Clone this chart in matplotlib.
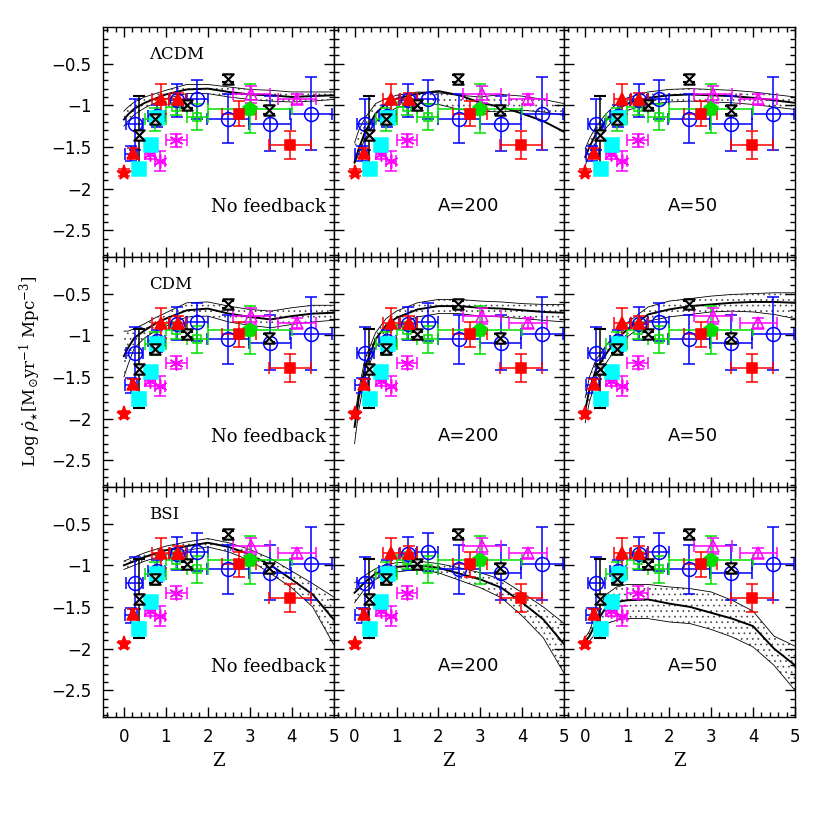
import numpy as np
import matplotlib
matplotlib.use('Agg')
import matplotlib.pyplot as plt
import matplotlib.ticker as ticker
from matplotlib.path import Path

plt.rcParams['mathtext.fontset'] = 'dejavuserif'
plt.rcParams['hatch.linewidth'] = 0.5

row_names = ['ΛCDM', 'CDM', 'BSI']
col_names = ['No feedback', 'A=200', 'A=50']

# observational points: y for the LCDM row, then y for the CDM/BSI rows
red_star_z = [0.0]
red_star_y = [[-1.81], [-1.95]]
red_star_yerr = [0.04]

red_tri_z = [0.22, 0.88, 1.29]
red_tri_y = [[-1.57, -0.92, -0.93], [-1.58, -0.85, -0.85]]
red_tri_xerr = [0.0, 0.2, 0.2]
red_tri_yerr = [0.06, 0.18, 0.08]

red_sq_z = [2.75, 3.97]
red_sq_y = [[-1.1, -1.48], [-0.99, -1.39]]
red_sq_xerr = [0.4, 0.5]
red_sq_yerr = [0.15, 0.17]

cyan_z = [0.37, 0.64, 0.8]
cyan_y = [[-1.76, -1.48, -1.15], [-1.76, -1.44, -1.1]]

black_z = [0.35, 0.75, 1.5, 2.47, 3.47]
black_y = [[-1.36, -1.16, -1.0, -0.68, -1.06], [-1.4, -1.16, -0.99, -0.63, -1.03]]
black_yerr = [0.47, 0.05, 0.03, 0.04, 0.05]

blue_z = [0.26, 0.78, 1.27, 1.75, 2.48, 3.48, 4.47]
blue_y = [[-1.23, -1.13, -0.94, -0.93, -1.16, -1.22, -1.1],
          [-1.21, -1.07, -0.86, -0.84, -1.05, -1.09, -0.98]]
blue_xerr = [0.2, 0.2, 0.2, 0.25, 0.5, 0.5, 0.5]
blue_yerr = [0.31, 0.13, 0.2, 0.23, 0.29, 0.33, 0.44]
blue_bar_z = [0.17]
blue_bar_y = [[-1.58], [-1.6]]

green_sq_z = [0.75, 1.25, 1.75]
green_sq_y = [[-1.17, -1.02, -1.14], [-1.1, -0.94, -1.05]]
green_sq_xerr = [0.25, 0.25, 0.25]
green_sq_yerr = [0.14, 0.1, 0.16]

green_pent_z = [3.0]
green_pent_y = [[-1.04], [-0.94]]
green_pent_xerr = [1.0]
green_pent_yerr = [0.29]

mag_ast_z = [0.62, 0.87, 1.25]
mag_ast_y = [[-1.58, -1.67, -1.42], [-1.55, -1.61, -1.33]]
mag_ast_xerr = [0.12, 0.12, 0.25]
mag_ast_yerr = [0.06, 0.12, 0.08]

mag_tri_z = [3.04, 4.13]
mag_tri_y = [[-0.87, -0.92], [-0.77, -0.85]]
mag_tri_xerr = [0.45, 0.45]
mag_tri_yerr = [0.1, 0.06]

# model curves: solid line, lower and upper edge of the dotted band
curve_z = [0, 0.1, 0.25, 0.5, 0.75, 1, 1.5, 2, 2.5, 3, 3.5, 4, 4.5, 5]

lcdm_nf_line = [-1.17, -1.11, -1.04, -0.97, -0.92, -0.87, -0.81, -0.8, -0.84, -0.87, -0.88, -0.9, -0.89, -0.88]
lcdm_nf_lo = [-1.25, -1.19, -1.11, -1.03, -0.97, -0.92, -0.86, -0.86, -0.9, -0.93, -0.95, -0.96, -0.95, -0.93]
lcdm_nf_hi = [-1.07, -1.02, -0.96, -0.9, -0.86, -0.82, -0.75, -0.75, -0.78, -0.81, -0.82, -0.84, -0.84, -0.84]

lcdm_200_line = [-1.68, -1.52, -1.32, -1.1, -0.98, -0.92, -0.86, -0.83, -0.88, -0.97, -1.02, -1.1, -1.19, -1.32]
lcdm_200_lo = [-1.7, -1.58, -1.4, -1.2, -1.1, -1.03, -0.97, -0.99, -1.05, -1.07, -1.08, -1.06, -1.08, -1.12]
lcdm_200_hi = [-1.45, -1.3, -1.15, -0.98, -0.92, -0.88, -0.84, -0.85, -0.88, -0.9, -0.87, -0.89, -0.93, -0.98]

lcdm_50_line = [-1.62, -1.5, -1.35, -1.18, -1.05, -0.98, -0.91, -0.88, -0.87, -0.88, -0.89, -0.91, -0.94, -0.97]
lcdm_50_lo = [-1.72, -1.6, -1.45, -1.27, -1.13, -1.06, -0.99, -0.96, -0.95, -0.96, -0.97, -0.99, -1.02, -1.05]
lcdm_50_hi = [-1.52, -1.4, -1.26, -1.1, -0.98, -0.91, -0.84, -0.81, -0.8, -0.81, -0.82, -0.84, -0.87, -0.9]

cdm_nf_line = [-1.25, -1.15, -1.03, -0.94, -0.86, -0.8, -0.7, -0.68, -0.74, -0.78, -0.81, -0.77, -0.74, -0.73]
cdm_nf_lo = [-1.5, -1.35, -1.15, -1.03, -0.95, -0.89, -0.78, -0.77, -0.84, -0.88, -0.91, -0.87, -0.84, -0.82]
cdm_nf_hi = [-0.95, -0.95, -0.92, -0.86, -0.79, -0.73, -0.61, -0.6, -0.65, -0.69, -0.71, -0.67, -0.64, -0.64]

cdm_200_line = [-2.1, -1.75, -1.38, -1.05, -0.88, -0.79, -0.69, -0.65, -0.65, -0.67, -0.68, -0.7, -0.72, -0.73]
cdm_200_lo = [-2.3, -1.9, -1.5, -1.15, -0.97, -0.88, -0.78, -0.74, -0.74, -0.77, -0.78, -0.8, -0.82, -0.84]
cdm_200_hi = [-2.0, -1.65, -1.28, -0.97, -0.8, -0.71, -0.61, -0.57, -0.57, -0.59, -0.6, -0.62, -0.63, -0.63]

cdm_50_line = [-1.9, -1.65, -1.42, -1.22, -1.05, -0.93, -0.75, -0.69, -0.65, -0.63, -0.61, -0.6, -0.6, -0.61]
cdm_50_lo = [-2.05, -1.8, -1.55, -1.33, -1.15, -1.02, -0.83, -0.78, -0.75, -0.72, -0.71, -0.72, -0.75, -0.8]
cdm_50_hi = [-1.75, -1.5, -1.3, -1.12, -0.97, -0.85, -0.66, -0.59, -0.56, -0.53, -0.51, -0.5, -0.49, -0.49]

bsi_nf_line = [-1.0, -0.98, -0.95, -0.9, -0.86, -0.82, -0.77, -0.73, -0.78, -0.87, -1.0, -1.17, -1.35, -1.65]
bsi_nf_lo = [-1.05, -1.03, -1.0, -0.95, -0.91, -0.87, -0.82, -0.78, -0.84, -0.94, -1.1, -1.27, -1.5, -1.95]
bsi_nf_hi = [-0.95, -0.93, -0.9, -0.85, -0.81, -0.77, -0.72, -0.68, -0.73, -0.81, -0.92, -1.07, -1.22, -1.38]

bsi_200_line = [-1.33, -1.28, -1.2, -1.1, -1.05, -1.02, -1.0, -1.03, -1.1, -1.17, -1.27, -1.45, -1.65, -1.95]
bsi_200_lo = [-1.45, -1.38, -1.28, -1.17, -1.11, -1.08, -1.05, -1.09, -1.18, -1.27, -1.39, -1.61, -1.87, -2.3]
bsi_200_hi = [-1.21, -1.18, -1.12, -1.04, -0.99, -0.97, -0.95, -0.98, -1.03, -1.09, -1.17, -1.33, -1.5, -1.7]

bsi_50_line = [-1.92, -1.85, -1.7, -1.5, -1.44, -1.42, -1.41, -1.46, -1.5, -1.57, -1.64, -1.73, -2.0, -2.2]
bsi_50_lo = [-1.97, -1.91, -1.82, -1.7, -1.66, -1.64, -1.64, -1.68, -1.7, -1.77, -1.86, -1.98, -2.2, -2.5]
bsi_50_hi = [-1.87, -1.79, -1.58, -1.35, -1.26, -1.23, -1.23, -1.26, -1.28, -1.32, -1.42, -1.55, -1.85, -1.97]

curves = [
    [(lcdm_nf_line, lcdm_nf_lo, lcdm_nf_hi), (lcdm_200_line, lcdm_200_lo, lcdm_200_hi), (lcdm_50_line, lcdm_50_lo, lcdm_50_hi)],
    [(cdm_nf_line, cdm_nf_lo, cdm_nf_hi), (cdm_200_line, cdm_200_lo, cdm_200_hi), (cdm_50_line, cdm_50_lo, cdm_50_hi)],
    [(bsi_nf_line, bsi_nf_lo, bsi_nf_hi), (bsi_200_line, bsi_200_lo, bsi_200_hi), (bsi_50_line, bsi_50_lo, bsi_50_hi)],
]

hourglass = Path([(-1, 1), (1, 1), (-1, -1), (1, -1), (-1, 1)],
                 [Path.MOVETO, Path.LINETO, Path.LINETO, Path.LINETO, Path.CLOSEPOLY])


def points(ax, z, y, color, marker, ms, xerr=None, yerr=None, face=None, zorder=4, mew=1.1):
    ax.errorbar(z, y, xerr=xerr, yerr=yerr, fmt='', linestyle='none', marker=marker,
                color=color, ecolor=color,
                mfc=color if face is None else face, mec=color, ms=ms, mew=mew,
                capsize=4, elinewidth=1.1, capthick=1.1, zorder=zorder)


def draw_data(ax, k):
    points(ax, blue_bar_z, blue_bar_y[k], 'blue', 'None', 0, xerr=[0.15], yerr=[0.09])
    points(ax, blue_z, blue_y[k], 'blue', 'o', 10, xerr=blue_xerr, yerr=blue_yerr, face='none')
    points(ax, green_sq_z, green_sq_y[k], '#00e000', 's', 6, xerr=green_sq_xerr, yerr=green_sq_yerr, face='none')
    points(ax, green_pent_z, green_pent_y[k], '#00e000', 'p', 10, xerr=green_pent_xerr, yerr=green_pent_yerr)
    points(ax, mag_ast_z, mag_ast_y[k], 'magenta', (6, 2, 0), 10, xerr=mag_ast_xerr, yerr=mag_ast_yerr)
    points(ax, mag_tri_z, mag_tri_y[k], 'magenta', '^', 8, xerr=mag_tri_xerr, yerr=mag_tri_yerr, face='none')
    points(ax, cyan_z, cyan_y[k], 'cyan', 's', 10)
    points(ax, black_z, black_y[k], 'black', hourglass, 7.5, yerr=black_yerr, face='#dddddd', mew=1.5)
    points(ax, red_sq_z, red_sq_y[k], 'red', 's', 7, xerr=red_sq_xerr, yerr=red_sq_yerr)
    points(ax, red_tri_z, red_tri_y[k], 'red', '^', 9, xerr=red_tri_xerr, yerr=red_tri_yerr)
    points(ax, red_star_z, red_star_y[k], 'red', '*', 11, yerr=red_star_yerr)


fig, axes = plt.subplots(3, 3, figsize=(8.17, 8.17), dpi=100, sharex=True, sharey=True)
fig.subplots_adjust(left=0.126, right=0.973, bottom=0.1225, top=0.967, wspace=0, hspace=0)

for r in range(3):
    for c in range(3):
        ax = axes[r, c]
        line, lo, hi = curves[r][c]
        ax.fill_between(curve_z, lo, hi, facecolor='white', edgecolor='#444444', hatch='...',
                        linewidth=0, zorder=1)
        ax.plot(curve_z, lo, color='black', lw=0.6, zorder=2)
        ax.plot(curve_z, hi, color='black', lw=0.6, zorder=2)
        ax.plot(curve_z, line, color='black', lw=1.4, zorder=2)

        draw_data(ax, 0 if r == 0 else 1)

        ax.set_xlim(-0.5, 5.0)
        ax.set_ylim(-2.82, -0.06)
        ax.xaxis.set_major_locator(ticker.MultipleLocator(1))
        ax.xaxis.set_minor_locator(ticker.MultipleLocator(0.2))
        ax.yaxis.set_major_locator(ticker.MultipleLocator(0.5))
        ax.yaxis.set_minor_locator(ticker.MultipleLocator(0.1))
        ax.yaxis.set_major_formatter(ticker.FuncFormatter(lambda v, p: ('%g' % v).replace('-', '\u2212')))
        ax.tick_params(which='both', direction='in', top=True, right=True, width=1)
        ax.tick_params(which='major', length=7, labelsize=12, pad=8)
        ax.tick_params(which='minor', length=3.5)
        for s in ax.spines.values():
            s.set_linewidth(1)

        if c == 0:
            ax.text(0.2, 0.88, row_names[r], transform=ax.transAxes, fontsize=12,
                    family='DejaVu Serif', va='center', ha='left')
            ax.text(0.965, 0.215, col_names[c], transform=ax.transAxes, fontsize=13,
                    family='DejaVu Serif', va='center', ha='right')
        else:
            ax.text(0.585 if c == 1 else 0.557, 0.222, col_names[c], transform=ax.transAxes,
                    fontsize=13, va='center', ha='center')
        if r == 2:
            ax.set_xlabel('Z', fontsize=13, family='DejaVu Serif', labelpad=4)

fig.text(0.037, 0.545, r'Log $\dot{\rho}_{\star}$[M$_{\odot}$yr$^{-1}$ Mpc$^{-3}$]',
         rotation=90, va='center', ha='center', fontsize=12, family='DejaVu Serif')

fig.savefig('out.png', dpi=100)
